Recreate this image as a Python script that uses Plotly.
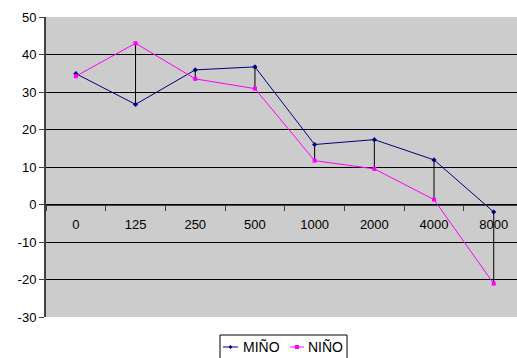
import plotly.graph_objects as go

# Frequency bands (Hz) and the two measured series
categories = ["0", "125", "250", "500", "1000", "2000", "4000", "8000"]
mino = [34.9, 26.7, 35.9, 36.7, 16.0, 17.3, 11.9, -2.0]
nino = [34.2, 43.0, 33.5, 30.9, 11.7, 9.5, 1.3, -21.1]
y_ticks = [50, 40, 30, 20, 10, 0, -10, -20, -30]
y_tick_text = ["50", "40", "30", "20", "10", "0", "-10", "-20", "-30"]

series = [
    dict(name="MIÑO", values=mino, color="#000080", symbol="diamond"),
    dict(name="NIÑO", values=nino, color="#FF00FF", symbol="square"),
]

W, H = 517, 358
M_L, M_R, M_T, M_B = 46, 0, 17, 41
PW, PH = W - M_L - M_R, H - M_T - M_B


def px_x(px):
    return (px - M_L) / PW


def px_y(py):
    return (H - M_B - py) / PH


# High-low connectors between the two series at each band
hl_x, hl_y = [], []
for c, a, b in zip(categories, mino, nino):
    hl_x += [c, c, None]
    hl_y += [a, b, None]

fig = go.Figure()
fig.add_trace(go.Scatter(
    x=hl_x, y=hl_y, mode="lines",
    line=dict(color="black", width=1),
    showlegend=False, hoverinfo="skip",
))
for s in series:
    fig.add_trace(go.Scatter(
        x=categories, y=s["values"], mode="lines+markers", name=s["name"],
        line=dict(color=s["color"], width=1),
        marker=dict(symbol=s["symbol"], size=4, color=s["color"]),
        showlegend=False,
    ))

# Compact boxed legend below the plot
shapes, annotations = [], []
shapes.append(dict(
    type="rect", xref="paper", yref="paper",
    x0=px_x(220), x1=px_x(347), y0=px_y(335), y1=px_y(362),
    line=dict(color="black", width=1), fillcolor="white", layer="above",
))
key_y = 347
for s, (kx0, kx1, tx) in zip(series, [(223, 238, 241), (290, 304, 306)]):
    shapes.append(dict(
        type="line", xref="paper", yref="paper",
        x0=px_x(kx0), x1=px_x(kx1), y0=px_y(key_y), y1=px_y(key_y),
        line=dict(color=s["color"], width=1), layer="above",
    ))
    cx = (kx0 + kx1) / 2
    if s["symbol"] == "square":
        shapes.append(dict(
            type="rect", xref="paper", yref="paper",
            x0=px_x(cx - 2), x1=px_x(cx + 2), y0=px_y(key_y + 2), y1=px_y(key_y - 2),
            line=dict(width=0), fillcolor=s["color"], layer="above",
        ))
    else:
        shapes.append(dict(
            type="path", xref="paper", yref="paper",
            path=(f"M {px_x(cx - 2)} {px_y(key_y)} L {px_x(cx)} {px_y(key_y - 2)} "
                  f"L {px_x(cx + 2)} {px_y(key_y)} L {px_x(cx)} {px_y(key_y + 2)} Z"),
            line=dict(width=0), fillcolor=s["color"], layer="above",
        ))
    annotations.append(dict(
        text=s["name"], xref="paper", yref="paper",
        x=px_x(tx), y=px_y(key_y), xanchor="left", yanchor="middle",
        showarrow=False,
        font=dict(family="Liberation Sans, Arial, sans-serif", size=14, color="black"),
    ))

font = dict(family="Liberation Sans, Arial, sans-serif", size=13, color="black")

fig.update_layout(
    width=W, height=H,
    margin=dict(l=M_L, r=M_R, t=M_T, b=M_B, autoexpand=False),
    paper_bgcolor="white",
    plot_bgcolor="#CCCCCC",
    font=font,
    showlegend=False,
    shapes=shapes,
    annotations=annotations,
    xaxis=dict(
        type="category",
        range=[-0.5, 7.39],
        showgrid=False,
        showline=True, linecolor="#404040", linewidth=1,
        ticks="outside", tickson="boundaries", ticklen=5, tickcolor="#404040",
        anchor="free", position=30 / 80,
        ticklabelstandoff=8,
        zeroline=False,
    ),
    yaxis=dict(
        range=[-30, 50],
        tickvals=y_ticks, ticktext=y_tick_text,
        showgrid=True, gridcolor="black", gridwidth=1,
        showline=True, linecolor="#404040", linewidth=2,
        ticks="outside", ticklen=5, tickcolor="#404040",
        zeroline=False,
    ),
)

fig.write_html("out.html")
